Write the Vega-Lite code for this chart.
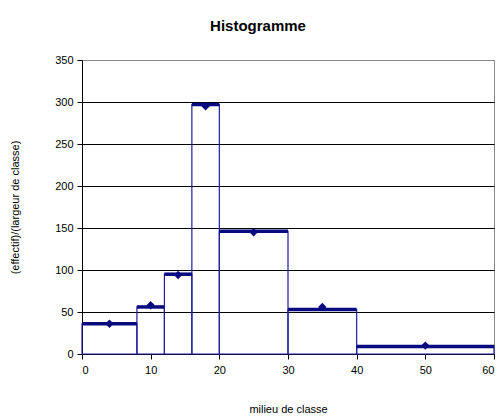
{
  "$schema": "https://vega.github.io/schema/vega-lite/v6.json",
  "autosize": "none",
  "width": 412,
  "height": 294,
  "padding": {"left": 82, "top": 60, "right": 10, "bottom": 65},
  "title": {"text": "Histogramme", "font": "Liberation Sans", "fontSize": 15, "fontWeight": "bold", "color": "#000", "anchor": "middle", "offset": 20, "dx": -30},
  "config": {
    "view": {"stroke": "#888", "strokeWidth": 1},
    "axis": {"labelFont": "Liberation Sans", "titleFont": "Liberation Sans", "labelFontSize": 11, "titleFontSize": 11, "labelColor": "#000", "titleColor": "#000", "titleFontWeight": "normal", "domainColor": "#000", "tickColor": "#000"}
  },
  "datasets": {
    "bins": [
      {"lo": 0, "hi": 8, "h": 36, "z": 0},
      {"lo": 8, "hi": 12, "h": 56, "z": 0},
      {"lo": 12, "hi": 16, "h": 95, "z": 0},
      {"lo": 16, "hi": 20, "h": 297, "z": 0},
      {"lo": 20, "hi": 30, "h": 146, "z": 0},
      {"lo": 30, "hi": 40, "h": 53, "z": 0},
      {"lo": 40, "hi": 60, "h": 9, "z": 0}
    ],
    "mids": [
      {"m": 4, "v": 36},
      {"m": 10, "v": 58},
      {"m": 14, "v": 94},
      {"m": 18, "v": 295},
      {"m": 25, "v": 145},
      {"m": 35, "v": 56},
      {"m": 50, "v": 10}
    ]
  },
  "layer": [
    {
      "data": {"name": "bins"},
      "mark": {"type": "rect", "fill": null, "stroke": "#1f1fa0", "strokeWidth": 1.2},
      "encoding": {
        "x": {"field": "lo", "type": "quantitative", "scale": {"domain": [0, 60], "nice": false}, "axis": {"title": "milieu de classe", "values": [0, 10, 20, 30, 40, 50, 60], "grid": false, "tickSize": 5, "labelPadding": 5, "titlePadding": 28}},
        "x2": {"field": "hi"},
        "y": {"field": "h", "type": "quantitative", "scale": {"domain": [0, 350], "nice": false}, "axis": {"title": "(effectif)/(largeur de classe)", "values": [0, 50, 100, 150, 200, 250, 300, 350], "grid": true, "gridColor": {"condition": {"test": "datum.value == 350", "value": "#888"}, "value": "#000"}, "gridOpacity": 1, "gridWidth": 1, "tickSize": 5, "labelPadding": 4, "titlePadding": 34}},
        "y2": {"field": "z"}
      }
    },
    {
      "data": {"name": "bins"},
      "mark": {"type": "rule", "stroke": "#0a0a80", "strokeWidth": 3.5},
      "encoding": {
        "x": {"field": "lo", "type": "quantitative"},
        "x2": {"field": "hi"},
        "y": {"field": "h", "type": "quantitative"}
      }
    },
    {
      "data": {"name": "mids"},
      "mark": {"type": "point", "shape": "diamond", "filled": true, "color": "#0a0a80", "size": 70, "opacity": 1},
      "encoding": {
        "x": {"field": "m", "type": "quantitative"},
        "y": {"field": "v", "type": "quantitative"}
      }
    }
  ]
}
